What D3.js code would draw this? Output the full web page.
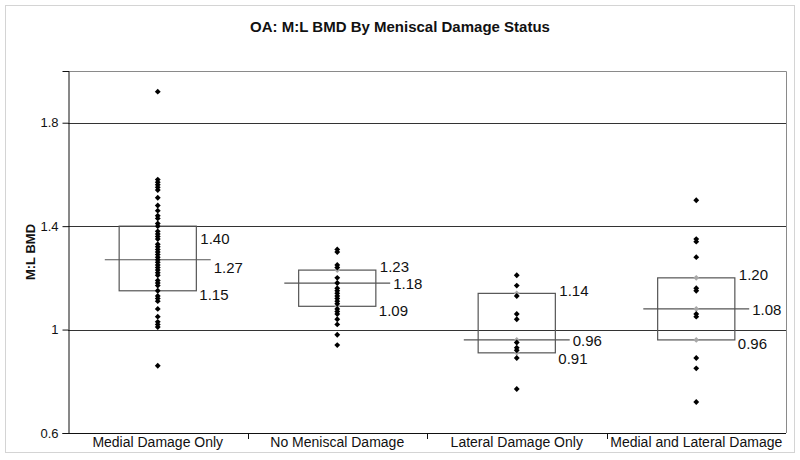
<!doctype html>
<html lang="en">
<head>
  <meta charset="utf-8">
  <title>OA: M:L BMD By Meniscal Damage Status</title>
  <style>
    body { margin: 0; background: #fff; }
    text { font-family: "Liberation Sans", Arial, sans-serif; fill: #111; }
  </style>
</head>
<body>
<div id="chart"></div>

<script src="https://cdnjs.cloudflare.com/ajax/libs/d3/7.8.5/d3.min.js"></script>
<script>

// categories and values
const categories = ["Medial Damage Only", "No Meniscal Damage", "Lateral Damage Only", "Medial and Lateral Damage"]

const medialOnly = [1.92, 1.58, 1.57, 1.56, 1.55, 1.54, 1.51, 1.48, 1.46, 1.44, 1.43, 1.41, 1.40, 1.38, 1.37,
  1.36, 1.35, 1.33, 1.32, 1.31, 1.30, 1.29, 1.28, 1.27, 1.26, 1.25, 1.24, 1.23, 1.22, 1.21, 1.19, 1.18,
  1.17, 1.15, 1.13, 1.12, 1.11, 1.08, 1.05, 1.03, 1.02, 1.01, 0.86]
const noDamage = [1.31, 1.30, 1.25, 1.24, 1.20, 1.18, 1.16, 1.15, 1.14, 1.13, 1.12, 1.11, 1.10, 1.08,
  1.07, 1.06, 1.04, 1.02, 0.98, 0.94]
const lateralOnly = [1.21, 1.17, 1.13, 1.06, 1.04, 0.95, 0.93, 0.92, 0.89, 0.77]
const medialLateral = [1.50, 1.35, 1.34, 1.28, 1.16, 1.15, 1.06, 1.05, 0.89, 0.85, 0.72]

const series = [medialOnly, noDamage, lateralOnly, medialLateral]

// box statistics (as labelled)
const q3 = [1.40, 1.23, 1.14, 1.20]
const median = [1.27, 1.18, 0.96, 1.08]
const q1 = [1.15, 1.09, 0.91, 0.96]

const yTicks = [0.6, 1.0, 1.4, 1.8]

const W = 800, H = 460
const plot = { left: 68, right: 786, top: 71, bottom: 433 }

const svg = d3.select("#chart").append("svg")
  .attr("width", W)
  .attr("height", H)

// outer frame
svg.append("rect")
  .attr("x", 5.5).attr("y", 5.5)
  .attr("width", 789).attr("height", 447)
  .attr("fill", "#fff")
  .attr("stroke", "#d4d4d4")

const x = d3.scaleBand()
  .domain(categories)
  .range([plot.left, plot.right])

const y = d3.scaleLinear()
  .domain([0.6, 2.0])
  .range([plot.bottom, plot.top])

// plot border (top / right)
svg.append("path")
  .attr("d", `M${plot.left},${plot.top + 0.5}H${plot.right + 0.5}V${plot.bottom}`)
  .attr("fill", "none")
  .attr("stroke", "#8a8a8a")

// gridlines
svg.append("g")
  .selectAll("line")
  .data(yTicks.filter(d => d > 0.6))
  .join("line")
    .attr("x1", plot.left).attr("x2", plot.right)
    .attr("y1", d => Math.round(y(d)) + 0.5)
    .attr("y2", d => Math.round(y(d)) + 0.5)
    .attr("stroke", "#333")

// y axis
const yAxis = svg.append("g")
  .attr("transform", `translate(${plot.left + 0.5},0)`)
  .call(d3.axisLeft(y).tickValues(yTicks).tickSize(6).tickPadding(4)
    .tickFormat(d => d === 1 ? "1" : d3.format(".1f")(d)))
yAxis.select(".domain").attr("stroke", "#111")
yAxis.selectAll(".tick line").attr("stroke", "#111")
yAxis.selectAll("text")
  .attr("font-size", 13)
  .attr("fill", "#333")
  .style("font-family", "'Liberation Sans', Arial, sans-serif")

// x axis: baseline, ticks between categories, labels
const xg = svg.append("g")
xg.append("line")
  .attr("x1", plot.left).attr("x2", plot.right)
  .attr("y1", plot.bottom + 0.5).attr("y2", plot.bottom + 0.5)
  .attr("stroke", "#111")

const bounds = categories.map(c => x(c)).concat([x.range()[1]])
xg.selectAll(".bound")
  .data(bounds.slice(1, -1))
  .join("line")
    .attr("class", "bound")
    .attr("x1", d => Math.round(d) + 0.5).attr("x2", d => Math.round(d) + 0.5)
    .attr("y1", plot.bottom).attr("y2", plot.bottom + 6)
    .attr("stroke", "#111")

xg.selectAll(".xlab")
  .data(categories)
  .join("text")
    .attr("class", "xlab")
    .attr("x", d => x(d) + x.bandwidth() / 2)
    .attr("y", plot.bottom + 14)
    .attr("text-anchor", "middle")
    .attr("font-size", 14)
    .attr("fill", "#222")
    .text(d => d)

// title and axis label
svg.append("text")
  .attr("x", W / 2).attr("y", 32)
  .attr("text-anchor", "middle")
  .attr("font-size", 15)
  .attr("font-weight", "bold")
  .attr("fill", "#222")
  .text("OA: M:L BMD By Meniscal Damage Status")

svg.append("text")
  .attr("transform", `translate(35,252) rotate(-90)`)
  .attr("text-anchor", "middle")
  .attr("font-size", 13)
  .attr("font-weight", "bold")
  .text("M:L BMD")

// boxes
const boxHalf = x.bandwidth() * 0.215
const medHalf = x.bandwidth() * 0.295
const groups = svg.append("g")
  .selectAll("g")
  .data(categories)
  .join("g")

groups.append("rect")
  .attr("x", (d) => x(d) + x.bandwidth() / 2 - boxHalf)
  .attr("y", (d, i) => y(q3[i]))
  .attr("width", boxHalf * 2)
  .attr("height", (d, i) => y(q1[i]) - y(q3[i]))
  .attr("fill", "none")
  .attr("stroke", "#555")
  .attr("stroke-width", 1.2)

groups.append("line")
  .attr("x1", d => x(d) + x.bandwidth() / 2 - medHalf)
  .attr("x2", d => x(d) + x.bandwidth() / 2 + medHalf)
  .attr("y1", (d, i) => y(median[i]))
  .attr("y2", (d, i) => y(median[i]))
  .attr("stroke", "#555")
  .attr("stroke-width", 1.2)

// points
const diamond = d3.symbol().type(d3.symbolDiamond2).size(22)

// grey markers at the box statistics
groups.each(function (d, i) {
  const cx = x(d) + x.bandwidth() / 2
  d3.select(this).selectAll(".stat")
    .data([q3[i], median[i], q1[i]])
    .join("path")
      .attr("class", "stat")
      .attr("d", diamond)
      .attr("transform", v => `translate(${cx},${y(v)})`)
      .attr("fill", "#a8a8a8")
})

groups.each(function (d, i) {
  const cx = x(d) + x.bandwidth() / 2
  d3.select(this).selectAll(".pt")
    .data(series[i])
    .join("path")
      .attr("class", "pt")
      .attr("d", diamond)
      .attr("transform", v => `translate(${cx},${y(v)})`)
      .attr("fill", "#000")
})

// value labels
const fmt = d3.format(".2f")
const medLabelY = i => y(median[i]) + (i === 0 ? 8 : 1)

groups.append("text")
  .attr("x", d => x(d) + x.bandwidth() / 2 + boxHalf + 4)
  // sit below the line when the upper quartile lands on a gridline
  .attr("y", (d, i) => y(q3[i]) + (yTicks.some(t => Math.abs(t - q3[i]) < 0.01) ? 13 : -3))
  .attr("dy", "0.35em")
  .attr("font-size", 15)
  .text((d, i) => fmt(q3[i]))

groups.append("text")
  .attr("x", d => x(d) + x.bandwidth() / 2 + medHalf + 3)
  .attr("y", (d, i) => medLabelY(i))
  .attr("dy", "0.35em")
  .attr("font-size", 15)
  .text((d, i) => fmt(median[i]))

groups.append("text")
  .attr("x", d => x(d) + x.bandwidth() / 2 + boxHalf + 3)
  // keep clear of the median label
  .attr("y", (d, i) => Math.max(y(q1[i]) + 4, medLabelY(i) + 18))
  .attr("dy", "0.35em")
  .attr("font-size", 15)
  .text((d, i) => fmt(q1[i]))

</script>
</body>
</html>
